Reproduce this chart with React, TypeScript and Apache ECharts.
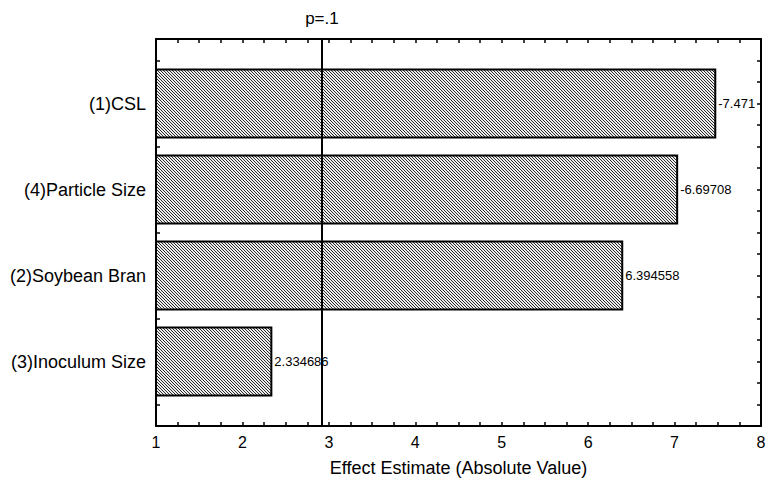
import React, { useEffect, useRef } from "react";
import * as echarts from "echarts";

const categories = ["(1)CSL", "(4)Particle Size", "(2)Soybean Bran", "(3)Inoculum Size"];
// bar lengths as drawn in the picture (absolute effect)
const barLengths = [7.471, 7.03, 6.394558, 2.334686];
// printed labels beside each bar
const effectLabels = ["-7.471", "-6.69708", "6.394558", "2.334686"];
const xMin = 1;
const xMax = 8;
const pValueLine = 2.92;
const pValueLabel = "p=.1";
const axisTitle = "Effect Estimate (Absolute Value)";

const FONT = '"Liberation Sans", Arial, Helvetica, sans-serif';

function makeHatch(): string {
  const c = document.createElement("canvas");
  c.width = 3;
  c.height = 3;
  const ctx = c.getContext("2d")!;
  ctx.fillStyle = "#ececec";
  ctx.fillRect(0, 0, 3, 3);
  ctx.fillStyle = "#2a2a2a";
  for (let i = 0; i < 3; i++) ctx.fillRect(i, i, 1, 1);
  return c.toDataURL();
}

export default function App() {
  const ref = useRef<HTMLDivElement>(null);

  useEffect(() => {
    if (!ref.current) return;
    const chart = echarts.init(ref.current, null, { renderer: "svg" });
    const hatch = makeHatch();
    const data = barLengths.map((v, i) => [v, i]);
    const yMin = -0.75;
    const yMax = categories.length - 0.25;
    const halfBar = 0.395;

    const frameX = (position: "bottom" | "top", showLabels: boolean) => ({
      type: "value",
      position,
      min: xMin,
      max: xMax,
      interval: 1,
      axisLine: { show: true, onZero: false, lineStyle: { color: "#000", width: 2 } },
      axisTick: { show: true, inside: true, length: 4, lineStyle: { color: "#000", width: 1.5 } },
      minorTick: { show: true, splitNumber: 4, length: 4, lineStyle: { color: "#000", width: 1.5 } },
      splitLine: { show: false },
      axisLabel: {
        show: showLabels,
        color: "#000",
        fontSize: 16,
        fontFamily: FONT,
        margin: 8,
      },
    });

    chart.setOption({
      animation: false,
      textStyle: { fontFamily: FONT },
      grid: { left: 156, right: 13, top: 39, bottom: 57, containLabel: false },
      xAxis: [
        {
          ...frameX("bottom", true),
          name: axisTitle,
          nameLocation: "middle",
          nameGap: 33,
          nameTextStyle: { color: "#000", fontSize: 18, fontFamily: FONT },
        },
        frameX("top", false),
      ],
      yAxis: [
        {
          type: "value",
          position: "left",
          inverse: true,
          min: yMin,
          max: yMax,
          interval: 0.25,
          axisLine: { show: true, onZero: false, lineStyle: { color: "#000", width: 2 } },
          axisTick: { show: true, inside: true, length: 4, lineStyle: { color: "#000", width: 1.5 } },
          splitLine: { show: false },
          axisLabel: {
            show: true,
            interval: 0,
            color: "#000",
            fontSize: 18,
            fontFamily: FONT,
            margin: 10,
            formatter: (v: number) =>
              Number.isInteger(v) && v >= 0 && v < categories.length ? categories[v] : "",
          },
        },
        {
          type: "value",
          position: "right",
          inverse: true,
          min: yMin,
          max: yMax,
          interval: 0.25,
          axisLine: { show: true, onZero: false, lineStyle: { color: "#000", width: 2 } },
          axisTick: { show: true, inside: true, length: 4, lineStyle: { color: "#000", width: 1.5 } },
          splitLine: { show: false },
          axisLabel: { show: false },
        },
      ],
      series: [
        {
          type: "custom",
          xAxisIndex: 0,
          yAxisIndex: 0,
          data,
          encode: { x: 0, y: 1 },
          renderItem: (params: any, api: any) => {
            const v = api.value(0);
            const idx = api.value(1);
            const p0 = api.coord([xMin, idx - halfBar]);
            const p1 = api.coord([v, idx + halfBar]);
            const x = p0[0];
            const w = p1[0] - p0[0];
            const y = Math.min(p0[1], p1[1]);
            const h = Math.abs(p1[1] - p0[1]);
            return {
              type: "group",
              children: [
                {
                  type: "rect",
                  shape: { x, y, width: w, height: h },
                  style: {
                    fill: { type: "pattern", image: hatch, repeat: "repeat" },
                    stroke: "#000",
                    lineWidth: 2,
                  },
                },
                {
                  type: "text",
                  x: x + w + 3,
                  y: y + h / 2,
                  style: {
                    text: effectLabels[params.dataIndex],
                    fill: "#000",
                    font: `13px ${FONT}`,
                    verticalAlign: "middle",
                    align: "left",
                  },
                },
              ],
            };
          },
          markLine: {
            silent: true,
            symbol: ["none", "none"],
            lineStyle: { color: "#000", width: 2, type: "solid" },
            label: {
              show: true,
              position: "start",
              formatter: pValueLabel,
              color: "#000",
              fontSize: 17,
              fontFamily: FONT,
              distance: 12,
            },
            data: [[{ coord: [pValueLine, yMin] }, { coord: [pValueLine, yMax] }]],
          },
        },
      ],
    });

    return () => chart.dispose();
  }, []);

  return (
    <div
      ref={ref}
      style={{ position: "absolute", left: 0, top: 0, width: 774, height: 483, background: "#fff" }}
    />
  );
}
